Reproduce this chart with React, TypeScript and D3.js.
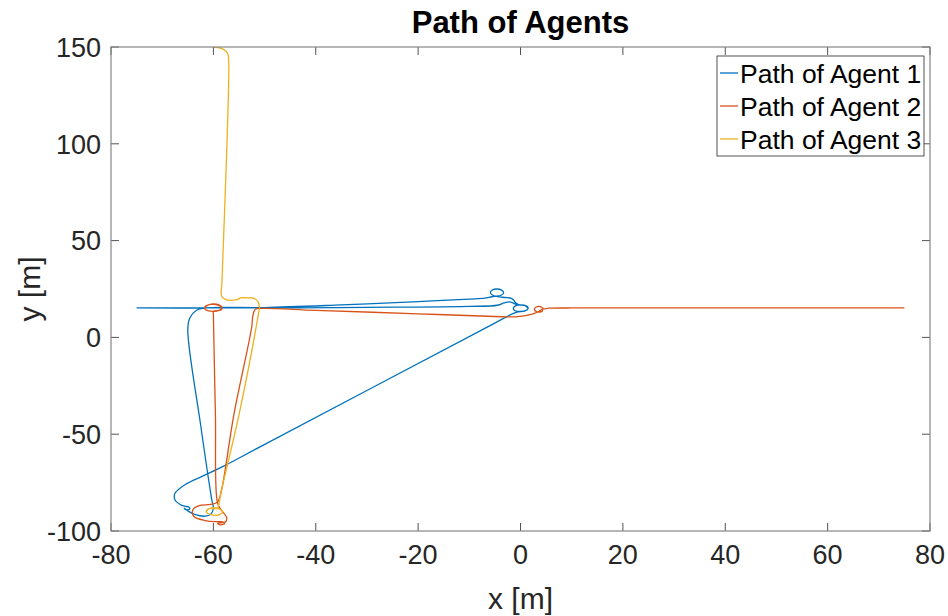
import React from "react";
import * as d3 from "d3";

type P = [number, number];

const agent1: P[] = [
  [-75, 15.2], [-62, 15.2], [-45, 15.3], [-25, 15.6], [-10, 16], [-4.5, 16.6], [-3.2, 17.8], [-2.2, 18.3],
  [-1.2, 17.5], [-0.6, 16.8], [1.0, 16.4], [1.5, 15.2], [1.0, 13.8], [0, 13.4], [-1.1, 13.8], [-1.4, 15],
  [-1, 16.3], [0, 16.8], [1.2, 16.2], [1.5, 15], [0.8, 13.6], [-0.5, 13.2], [-1.5, 12.3], [-5.3, 7],
  [-50.8, -56.4], [-58, -66.5], [-62, -71.5], [-65.5, -76], [-67.5, -80.5], [-67.5, -84], [-66.5, -86.3],
  [-65.6, -87.2], [-64.8, -87.6], [-64.6, -88.6], [-65.4, -89], [-65.7, -88.2], [-65, -89.6], [-63.5, -91.6],
  [-61.5, -92.3], [-60.4, -91], [-60, -88], [-60.3, -84], [-62.5, -45], [-65, 4], [-64.6, 10], [-63.3, 14],
  [-61.5, 15.2], [-50, 15.4], [-35, 16.8], [-20, 18.5], [-10, 19.8], [-7, 20.3], [-5.6, 21.0], [-4.6, 21.3],
  [-3.8, 21.8], [-3.3, 23.1], [-3.7, 24.4], [-4.6, 25.0], [-5.5, 24.5], [-5.9, 23.2], [-5.5, 21.9],
  [-4.5, 21.1], [-3.0, 20.6], [-1.8, 20.2], [-1.3, 19.2], [-1, 18], [-0.3, 16.8], [0.8, 16.5], [1.4, 15.3],
];

const agent2: P[] = [
  [75, 15.2], [40, 15.2], [10, 15.2], [5.5, 15.1], [4.5, 14.8], [4, 15.8], [3, 15.6], [2.7, 14.5],
  [3.2, 13.2], [4.2, 13.4], [4.3, 14.5], [3.4, 13.2], [1.5, 11.5], [-1, 10.6], [-5, 10.8], [-20, 12.2],
  [-40, 14], [-50.5, 15], [-51.8, 14.5], [-52.3, 11], [-52.5, 5.5], [-56, -40], [-58.5, -80], [-59.2, -85],
  [-60.5, -86.3], [-62.8, -86.9], [-64, -89], [-63.8, -92.5], [-61.6, -94.6], [-59.5, -95.2], [-58.4, -95.2],
  [-57.8, -96.2], [-58.6, -96.8], [-59.2, -96.0], [-57.6, -95.2], [-57.4, -93], [-58.5, -89], [-59.2, -85.5],
  [-59.6, -40], [-60, 12], [-60, 13.5], [-58.5, 14.2], [-58.3, 15.5], [-59, 16.9], [-60.5, 17.1],
  [-61.6, 16], [-61.6, 14.5], [-60.5, 13.6], [-59, 13.8], [-58.4, 15.3], [-59.5, 16.9], [-61, 16.8], [-61.7, 15.3],
];

const agent3: P[] = [
  [-60, 150], [-58.2, 149], [-57.2, 146.5], [-57, 142], [-58.3, 30], [-58.4, 21.5], [-57.8, 19.8],
  [-55.5, 19.4], [-54.5, 20.5], [-53.6, 20.4], [-52.2, 20.3], [-51.3, 18.5], [-51, 15.5], [-51.2, 12],
  [-55, -40], [-58.5, -80], [-59, -87], [-59.2, -88.3], [-61, -88.5], [-61.4, -90], [-60.5, -91.6],
  [-58.8, -91.5], [-58.2, -90], [-59, -88.4], [-60.8, -88.4], [-61.4, -89.8],
];

const seriesNames = ["Path of Agent 1", "Path of Agent 2", "Path of Agent 3"];
const seriesData = [agent1, agent2, agent3];
const seriesColors = ["#0072BD", "#D95319", "#EDB120"];
const xTicks = [-80, -60, -40, -20, 0, 20, 40, 60, 80];
const yTicks = [-100, -50, 0, 50, 100, 150];

export default function App() {
  const W = 948, H = 616;
  const L = 111, R = 930, T = 47, B = 531;
  const x = d3.scaleLinear().domain([-80, 80]).range([L, R]);
  const y = d3.scaleLinear().domain([-100, 150]).range([B, T]);
  const line = d3.line<P>().x(d => x(d[0])).y(d => y(d[1])).curve(d3.curveCatmullRom.alpha(0.5));
  const font = "'Liberation Sans', Arial, sans-serif";
  const tickLen = 8;
  const txt = "#262626";
  const legX = 717, legY = 56, legW = 207, legH = 100;
  return (
    <svg width={W} height={H} style={{ position: "absolute", left: 0, top: 0 }}>
      <rect x={0} y={0} width={W} height={H} fill="#fff" />
      <defs>
        <clipPath id="plot"><rect x={L} y={T} width={R - L} height={B - T} /></clipPath>
      </defs>
      <g clipPath="url(#plot)">
        {seriesData.map((s, i) => (
          <path key={i} d={line(s) || ""} fill="none" stroke={seriesColors[i]} strokeWidth={1.3} />
        ))}
      </g>
      {xTicks.map(t => (
        <g key={"x" + t}>
          <line x1={x(t)} x2={x(t)} y1={B} y2={B - tickLen} stroke={txt} strokeWidth={0.8} />
          <line x1={x(t)} x2={x(t)} y1={T} y2={T + tickLen} stroke={txt} strokeWidth={0.8} />
          <text x={x(t)} y={B + 33} textAnchor="middle" fontFamily={font} fontSize={27} fill={txt}>{t}</text>
        </g>
      ))}
      {yTicks.map(t => (
        <g key={"y" + t}>
          <line x1={L} x2={L + tickLen} y1={y(t)} y2={y(t)} stroke={txt} strokeWidth={0.8} />
          <line x1={R} x2={R - tickLen} y1={y(t)} y2={y(t)} stroke={txt} strokeWidth={0.8} />
          <text x={L - 10} y={y(t)} dy="0.36em" textAnchor="end" fontFamily={font} fontSize={27} fill={txt}>{t}</text>
        </g>
      ))}
      <rect x={L} y={T} width={R - L} height={B - T} fill="none" stroke="#858585" strokeWidth={1.2} />
      <text x={(L + R) / 2} y={609} textAnchor="middle" fontFamily={font} fontSize={30} fill={txt}>x [m]</text>
      <text transform={`translate(40,${(T + B) / 2}) rotate(-90)`} textAnchor="middle" fontFamily={font} fontSize={30} fill={txt}>y [m]</text>
      <text x={(L + R) / 2} y={33} textAnchor="middle" fontFamily={font} fontSize={31} fontWeight="bold" fill="#000">Path of Agents</text>
      <rect x={legX} y={legY} width={legW} height={legH} fill="#fff" stroke="#262626" strokeWidth={0.8} />
      {seriesNames.map((n, i) => (
        <g key={n}>
          <line x1={legX + 3} x2={legX + 21} y1={legY + 17 + i * 33} y2={legY + 17 + i * 33} stroke={seriesColors[i]} strokeWidth={1.3} />
          <text x={legX + 23} y={legY + 17 + i * 33} dy="0.36em" fontFamily={font} fontSize={26.5} fill="#000">{n}</text>
        </g>
      ))}
    </svg>
  );
}
